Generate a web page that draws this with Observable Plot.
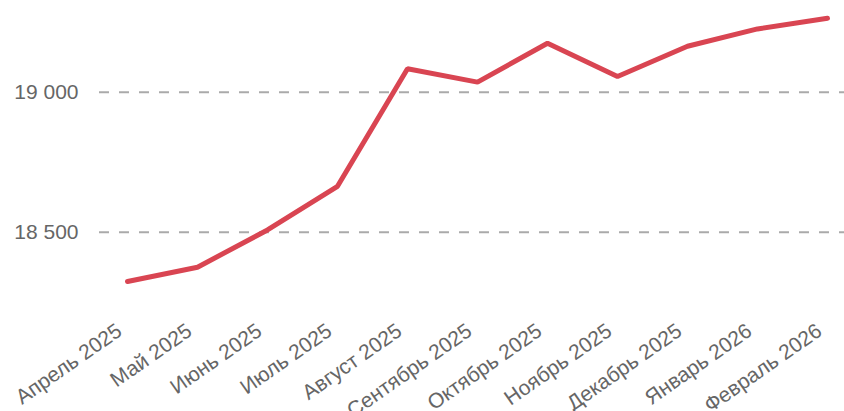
<!DOCTYPE html>
<html>
<head>
<meta charset="utf-8">
<script src="https://cdn.jsdelivr.net/npm/d3@7"></script>
<script src="https://cdn.jsdelivr.net/npm/@observablehq/plot@0.6"></script>
<style>
  html, body { margin: 0; padding: 0; background: #fff; }
  #chart svg { display: block; }
</style>
</head>
<body>
<div id="chart"></div>
<script>
const months = ["Апрель 2025", "Май 2025", "Июнь 2025", "Июль 2025", "Август 2025", "Сентябрь 2025", "Октябрь 2025", "Ноябрь 2025", "Декабрь 2025", "Январь 2026", "Февраль 2026"];
const values = [18324, 18375, 18508, 18664, 19084, 19036, 19175, 19056, 19164, 19226, 19264];
const yTicks = [18500, 19000];

const data = months.map((m, i) => ({month: m, value: values[i]}));
const fmt = d => d3.format(",")(d).replace(/,/g, " ");

const chart = Plot.plot({
  width: 844,
  height: 411,
  marginLeft: 99,
  marginRight: 0,
  marginTop: 0,
  marginBottom: 96,
  style: {fontFamily: "'Liberation Sans', Arial, sans-serif", color: "#666", background: "#fff"},
  x: {type: "point", domain: months, range: [127, 827], padding: 0, label: null},
  y: {domain: [18500, 19000], range: [231.7, 91.7], label: null},
  marks: [
    Plot.ruleY(yTicks, {stroke: "#aaa", strokeWidth: 2, strokeDasharray: "10,10"}),
    Plot.axisY(yTicks, {tickSize: 0, tickPadding: 21, tickFormat: fmt, fontSize: 21, fill: "#666", label: null}),
    Plot.axisX({tickSize: 0, tickPadding: 10, tickRotate: -35, fontSize: 21, fill: "#666", label: null, dx: -8, dy: 3}),
    Plot.line(data, {x: "month", y: "value", stroke: "#d94552", strokeWidth: 5, strokeLinejoin: "miter", strokeLinecap: "round"})
  ]
});
document.getElementById("chart").appendChild(chart);
</script>
</body>
</html>
